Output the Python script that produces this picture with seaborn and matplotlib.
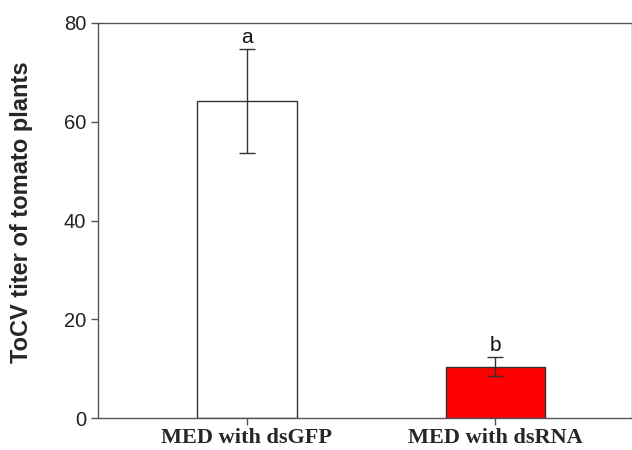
import matplotlib
matplotlib.use("Agg")
import matplotlib.pyplot as plt
import seaborn as sns
import pandas as pd

categories = ["MED with dsGFP", "MED with dsRNA"]
means = [64.2, 10.4]
errors = [10.6, 1.9]
letters = ["a", "b"]
colors = ["#FFFFFF", "#FF0000"]
yticks = [0, 20, 40, 60, 80]

df = pd.DataFrame({"group": categories, "titer": means})

sns.set_style("ticks")
plt.rcParams["font.family"] = ["Liberation Sans", "DejaVu Sans"]

fig = plt.figure(figsize=(6.32, 4.5), dpi=100)
ax = fig.add_axes([0.155, 0.071, 0.845, 0.878])

sns.barplot(data=df, x="group", y="titer", hue="group", palette=colors,
            saturation=1, width=0.4, edgecolor="#333333", linewidth=1.0,
            legend=False, ax=ax)
ax.errorbar(range(len(categories)), means, yerr=errors, fmt="none",
            ecolor="#333333", elinewidth=1.0, capsize=6, capthick=1.0)
for i, (m, e, l) in enumerate(zip(means, errors, letters)):
    ax.text(i, m + e + 0.4, l, ha="center", va="bottom", fontsize=15,
            color="#111111")

ax.set_xlim(-0.6, 1.55)
ax.set_ylim(0, 80)
ax.set_yticks(yticks)
ax.set_yticklabels([str(t) for t in yticks], fontsize=14.5, color="#222222")
ax.set_xticks(range(len(categories)))
ax.set_xticklabels(categories, fontsize=16, fontweight="bold",
                   family=["Liberation Serif", "DejaVu Serif"])
ax.set_xlabel("")
ax.set_ylabel("ToCV titer of tomato plants", fontsize=17, fontweight="bold")
ax.yaxis.set_label_coords(-0.122, 0.522)
for s in ["left", "bottom", "top", "right"]:
    ax.spines[s].set_color("#555555")
    ax.spines[s].set_linewidth(1.0)
ax.tick_params(axis="both", direction="out", length=5, color="#555555", width=1.0)
ax.tick_params(axis="x", pad=2)

fig.savefig("out.png", dpi=100)
